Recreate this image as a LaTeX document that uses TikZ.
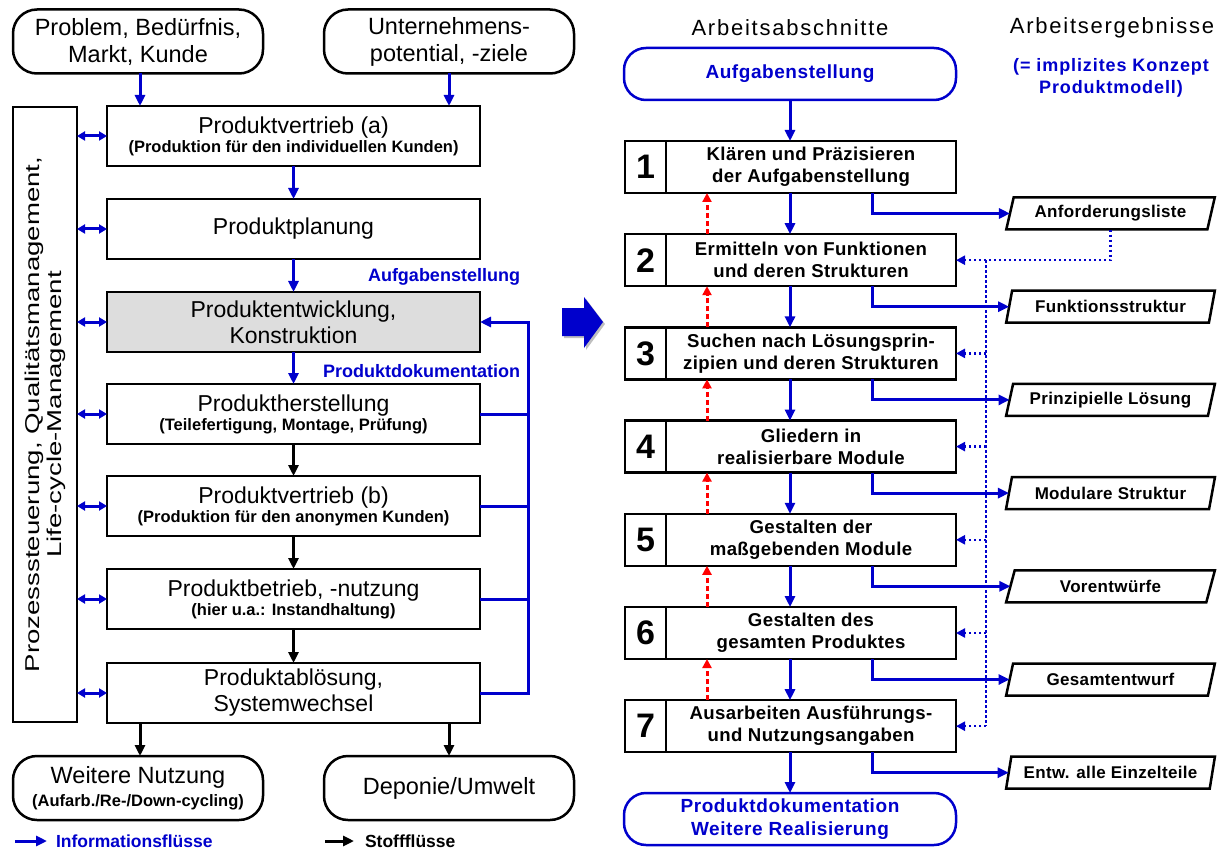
\documentclass[tikz,border=0pt]{standalone}
\usepackage{fontspec}
\setmainfont{Liberation Sans}
\usetikzlibrary{arrows.meta,shapes.geometric,calc}
\definecolor{infoblue}{RGB}{0,0,204}
\definecolor{redflow}{RGB}{255,0,0}
\definecolor{boxgray}{RGB}{221,221,221}
\newcommand{\fsz}[2]{\fontsize{#1}{#2}\selectfont}
\newcommand{\subtxt}{\fsz{16.5}{19}\bfseries}
\newcommand{\spaced}[1]{\addfontfeature{LetterSpace=#1}}
\begin{document}
\begin{tikzpicture}[x=1pt,y=-1pt,
  every node/.style={inner sep=0pt,outer sep=0pt},
  pill/.style={draw,line width=2.5pt,rounded corners=24pt,minimum width=250pt,minimum height=64pt,align=center,font=\fsz{23.5}{27}},
  stage/.style={draw,line width=2.5pt,minimum width=373pt,minimum height=60pt,align=center,fill=white,font=\fsz{23}{19}},
  twoline/.style={font=\fsz{23}{26}},
  bluepill/.style={draw=infoblue,line width=2.5pt,rounded corners=22pt,minimum width=332pt,minimum height=52pt,align=center,text=infoblue,font=\fsz{19}{23}\bfseries\spaced{3}},
  stepnum/.style={draw,line width=2.5pt,minimum width=41pt,minimum height=52pt,font=\fsz{34}{34}\bfseries},
  steptext/.style={draw,line width=2.5pt,minimum width=290pt,minimum height=52pt,align=center,font=\fsz{18.6}{22}\bfseries\spaced{2}},
  result/.style={draw,line width=2.5pt,trapezium,trapezium left angle=70,trapezium right angle=110,trapezium stretches=true,minimum width=209pt,minimum height=32pt,font=\fsz{17}{20}\bfseries\spaced{2}},
  infoline/.style={draw=infoblue,line width=3pt},
  infoarrow/.style={infoline,-{Triangle[length=11pt,width=10pt]}},
  matarrow/.style={draw=black,line width=3pt,-{Triangle[length=11pt,width=10pt]}},
  dblarrow/.style={draw=infoblue,line width=3pt,{Triangle[length=8pt,width=9pt]}-{Triangle[length=8pt,width=9pt]}},
  backarrow/.style={draw=redflow,line width=3pt,dash pattern=on 5pt off 3pt,-{Triangle[length=9pt,width=9pt]}},
  dotline/.style={draw=infoblue,line width=2.5pt,dash pattern=on 2.5pt off 2.5pt},
  dotarrow/.style={dotline,-{Triangle[length=9pt,width=9pt]}},
  bluelabel/.style={text=infoblue,font=\fsz{18}{21}\bfseries}
]
\useasboundingbox (0,0) rectangle (1223,850);

% ---------- life cycle (left) ----------
\node[pill] (need) at (138,41.5) {Problem, Bedürfnis,\\Markt, Kunde};
\node[pill] (corp) at (449,41.5) {Unternehmens-\\potential, -ziele};

\node[draw,line width=2.5pt,minimum width=64pt,minimum height=615pt] (ctrl) at (45,414.5) {};
\node[rotate=90,font=\fsz{20}{25}] (ctrltext) at (ctrl.center)
  {\scalebox{1.38}[1]{\begin{tabular}{@{}c@{}}Prozesssteuerung, Qualitätsmanagement,\\[-3pt]Life-cycle-Management\end{tabular}}};

\node[stage] (sa) at (293.5,136) {Produktvertrieb (a)\\{\subtxt (Produktion für den individuellen Kunden)}};
\node[stage,twoline] (plan) at (293.5,229) {Produktplanung};
\node[stage,twoline,fill=boxgray] (dev) at (293.5,322) {Produktentwicklung,\\Konstruktion};
\node[stage] (prod) at (293.5,414) {Produktherstellung\\{\subtxt (Teilefertigung, Montage, Prüfung)}};
\node[stage] (sb) at (293.5,506) {Produktvertrieb (b)\\{\subtxt (Produktion für den anonymen Kunden)}};
\node[stage] (use) at (293.5,599) {Produktbetrieb, -nutzung\\{\subtxt (hier u.a.: Instandhaltung)}};
\node[stage,twoline] (ret) at (293.5,693) {Produktablösung,\\Systemwechsel};

\node[pill,font=\fsz{23.5}{23}] (reuse) at (138,788) {Weitere Nutzung\\{\fsz{16.5}{19}\bfseries (Aufarb./Re-/Down-cycling)}};
\node[pill] (dump) at (449,788) {Deponie/Umwelt};

\node[bluelabel,anchor=east] (lbltask) at (520,277) {Aufgabenstellung};
\node[bluelabel,anchor=east] (lbldoc) at (520,371) {Produktdokumentation};

% information flows
\coordinate (needx) at (140,0);
\coordinate (corpx) at (449,0);
\draw[infoarrow] (need.south -| needx) -- (sa.north -| needx);
\draw[infoarrow] (corp.south -| corpx) -- (sa.north -| corpx);
\draw[infoarrow] (sa) -- (plan);
\draw[infoarrow] (plan) -- (dev);
\draw[infoarrow] (dev) -- (prod);
% material flows
\draw[matarrow] (prod) -- (sb);
\draw[matarrow] (sb) -- (use);
\draw[matarrow] (use) -- (ret);
\draw[matarrow] (ret.south -| needx) -- (reuse.north -| needx);
\draw[matarrow] (ret.south -| corpx) -- (dump.north -| corpx);

% feedback into development
\coordinate (loopx) at (528,0);
\draw[infoarrow] (ret.east) -- (ret.east -| loopx) -- (dev.east -| loopx) -- (dev.east);
\foreach \b in {prod,sb,use}
  \draw[infoline] (\b.east) -- (\b.east -| loopx);

% links to process control
\foreach \b in {sa,plan,dev,prod,sb,use,ret}
  \draw[dblarrow] (ctrl.east |- \b.west) -- (\b.west);

% legend
\coordinate (lgA) at (15,841);
\coordinate (lgB) at (47,841);
\coordinate (lgC) at (325,841);
\coordinate (lgD) at (354,841);
\draw[infoarrow] (lgA) -- (lgB);
\node[bluelabel,font=\fsz{17.5}{20}\bfseries,anchor=west] (lgInfo) at (56,841) {Informationsflüsse};
\draw[matarrow] (lgC) -- (lgD);
\node[anchor=west,font=\fsz{17.5}{20}\bfseries] (lgMat) at (365,841) {Stoffflüsse};

% transition arrow
\fill[gray!50] (564,310) -- (586,310) -- (586,299) -- (605,324) -- (586,350) -- (586,338) -- (564,338) -- cycle;
\fill[infoblue] (562,308) -- (584,308) -- (584,297) -- (603,322) -- (584,348) -- (584,336) -- (562,336) -- cycle;

% ---------- design process (right) ----------
\node[font=\fsz{22}{24}\spaced{8}] (hdsteps) at (790,28) {Arbeitsabschnitte};
\node[font=\fsz{22}{24}\spaced{8}] (hdres) at (1112,28) {Arbeitsergebnisse};
\node[align=center,text=infoblue,font=\fsz{18}{22}\bfseries\spaced{5}] (hdmodel) at (1111,78) {(= implizites Konzept\\Produktmodell)};

\node[bluepill] (task) at (790,74) {Aufgabenstellung};

\node[stepnum] (n1) at (645.5,167) {1};
\node[steptext] (s1) at (811,167) {Klären und Präzisieren\\der Aufgabenstellung};
\node[stepnum] (n2) at (645.5,260.2) {2};
\node[steptext] (s2) at (811,260.2) {Ermitteln von Funktionen\\und deren Strukturen};
\node[stepnum] (n3) at (645.5,353.4) {3};
\node[steptext] (s3) at (811,353.4) {Suchen nach Lösungsprin-\\zipien und deren Strukturen};
\node[stepnum] (n4) at (645.5,446.6) {4};
\node[steptext] (s4) at (811,446.6) {Gliedern in\\realisierbare Module};
\node[stepnum] (n5) at (645.5,539.8) {5};
\node[steptext] (s5) at (811,539.8) {Gestalten der\\maßgebenden Module};
\node[stepnum] (n6) at (645.5,633) {6};
\node[steptext] (s6) at (811,633) {Gestalten des\\gesamten Produktes};
\node[stepnum] (n7) at (645.5,726.2) {7};
\node[steptext] (s7) at (811,726.2) {Ausarbeiten Ausführungs-\\und Nutzungsangaben};

\node[bluepill] (doc) at (790,819) {Produktdokumentation\\Weitere Realisierung};

\node[result] (p1) at (1110.5,213.5) {Anforderungsliste};
\node[result] (p2) at (1110.5,306.7) {Funktionsstruktur};
\node[result] (p3) at (1110.5,399.9) {Prinzipielle Lösung};
\node[result] (p4) at (1110.5,493.1) {Modulare Struktur};
\node[result] (p5) at (1110.5,586.3) {Vorentwürfe};
\node[result] (p6) at (1110.5,679.5) {Gesamtentwurf};
\node[result] (p7) at (1110.5,772.7) {Entw. alle Einzelteile};

% main sequence
\coordinate (mainx) at (790,0);
\draw[infoarrow] (task.south) -- (s1.north -| mainx);
\draw[infoarrow] (s1.south -| mainx) -- (s2.north -| mainx);
\draw[infoarrow] (s2.south -| mainx) -- (s3.north -| mainx);
\draw[infoarrow] (s3.south -| mainx) -- (s4.north -| mainx);
\draw[infoarrow] (s4.south -| mainx) -- (s5.north -| mainx);
\draw[infoarrow] (s5.south -| mainx) -- (s6.north -| mainx);
\draw[infoarrow] (s6.south -| mainx) -- (s7.north -| mainx);
\draw[infoarrow] (s7.south -| mainx) -- (doc.north);

% iteration back to the previous step
\coordinate (redx) at (707,0);
\draw[backarrow] (s2.north -| redx) -- (s1.south -| redx);
\draw[backarrow] (s3.north -| redx) -- (s2.south -| redx);
\draw[backarrow] (s4.north -| redx) -- (s3.south -| redx);
\draw[backarrow] (s5.north -| redx) -- (s4.south -| redx);
\draw[backarrow] (s6.north -| redx) -- (s5.south -| redx);
\draw[backarrow] (s7.north -| redx) -- (s6.south -| redx);

% results of each step
\coordinate (outx) at (872,0);
\foreach \k in {1,...,7}
  \draw[infoarrow] (s\k.south -| outx) |- (p\k.west);

% requirements list feeds all later steps
\coordinate (dotx) at (986,0);
\draw[dotarrow] (p1.south) |- (s2.east);
\draw[dotline] (s2.east -| dotx) -- (s7.east -| dotx);
\foreach \k in {3,...,7}
  \draw[dotarrow] (s\k.east -| dotx) -- (s\k.east);
\end{tikzpicture}
\end{document}
